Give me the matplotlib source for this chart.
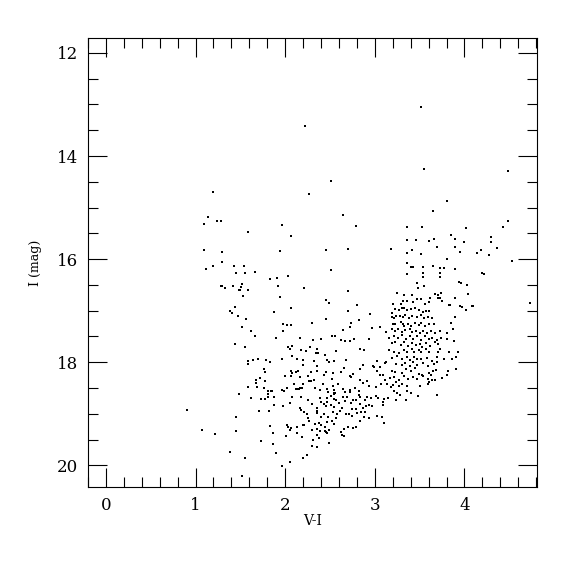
import matplotlib.pyplot as plt
import numpy as np

# colour-magnitude diagram, values

# sparse stars (blue side, bright field stars, upper giant branch)
field_vi = [3.51, 2.22, 3.55, 4.49, 2.51, 1.20, 2.27, 3.81, 3.65, 2.65, 1.14, 1.09, 1.24, 1.28,
            1.97, 2.79, 3.36, 3.53, 4.02, 4.49, 4.43, 1.59, 2.07, 3.85, 4.30, 4.30, 3.90, 3.99,
            3.36, 3.46, 3.61, 3.66, 3.69, 3.90, 1.09, 1.94, 2.46, 2.70, 3.18, 3.42, 3.95, 4.19,
            4.14, 4.27, 4.36, 1.30, 3.36, 3.52, 3.80, 4.53, 1.12, 1.19, 1.29, 1.43, 1.54, 1.45,
            1.55, 1.66, 2.51, 3.36, 3.40, 3.43, 3.36, 3.54, 3.65, 3.73, 3.77, 3.89, 3.73, 3.73,
            3.54, 3.54, 4.20, 4.22, 1.83, 1.91, 2.03, 1.28, 1.33, 1.30, 1.42, 1.52, 1.51, 1.50,
            1.48, 1.59, 1.92, 2.21, 3.47, 3.55, 3.48, 3.94, 3.96, 4.03, 1.53, 1.94, 2.70, 3.25,
            3.33, 3.41, 4.04, 3.62, 3.67, 3.71, 3.74, 3.73, 3.90, 3.47, 3.32, 2.45, 2.49, 2.80,
            3.20, 3.29, 3.83, 3.84, 3.95, 3.97, 4.08, 4.10, 4.73, 1.44, 2.07, 1.39, 1.41, 1.87,
            1.47, 1.56, 2.70, 2.45, 2.95, 2.82, 3.90, 4.02]
field_i = [13.04, 13.41, 14.25, 14.29, 14.48, 14.70, 14.74, 14.88, 15.07, 15.14, 15.18, 15.31, 15.26, 15.26,
           15.34, 15.35, 15.37, 15.38, 15.40, 15.26, 15.37, 15.47, 15.55, 15.53, 15.58, 15.66, 15.61, 15.67,
           15.63, 15.63, 15.65, 15.60, 15.76, 15.77, 15.82, 15.85, 15.82, 15.80, 15.81, 15.83, 15.87, 15.83,
           15.89, 15.92, 15.79, 15.86, 15.89, 15.90, 15.99, 16.03, 16.20, 16.14, 16.06, 16.14, 16.13, 16.26,
           16.26, 16.25, 16.21, 16.08, 16.15, 16.15, 16.28, 16.16, 16.14, 16.18, 16.18, 16.19, 16.27, 16.34,
           16.26, 16.35, 16.26, 16.28, 16.39, 16.37, 16.33, 16.52, 16.56, 16.53, 16.52, 16.48, 16.55, 16.59,
           16.59, 16.59, 16.52, 16.56, 16.47, 16.52, 16.56, 16.45, 16.46, 16.51, 16.72, 16.74, 16.62, 16.65,
           16.69, 16.69, 16.67, 16.75, 16.68, 16.70, 16.66, 16.75, 16.75, 16.77, 16.81, 16.79, 16.85, 16.88,
           16.87, 16.87, 16.89, 16.88, 16.91, 16.92, 16.90, 16.91, 16.86, 16.92, 16.94, 17.01, 17.05, 17.02,
           17.10, 17.17, 17.01, 17.16, 17.07, 17.19, 17.12, 16.98]

# main faint group (turn-off / subgiants)
faint_vi = [2.30, 1.98, 2.02, 2.07, 2.73, 2.72, 2.97, 3.06, 3.85, 3.87, 1.52, 1.62, 1.66, 1.98,
            2.65, 1.90, 2.16, 2.52, 2.56, 2.31, 2.40, 2.62, 2.67, 2.72, 2.77, 2.94, 1.44, 1.55,
            2.03, 2.05, 2.08, 2.18, 2.23, 2.28, 2.35, 2.34, 2.37, 2.44, 2.57, 2.84, 2.88, 2.13,
            2.08, 2.20, 2.32, 2.47, 2.49, 2.55, 2.68, 1.59, 1.59, 1.64, 1.70, 1.79, 1.83, 1.96,
            1.76, 1.77, 2.00, 2.07, 2.08, 2.07, 2.12, 2.14, 2.17, 2.20, 2.26, 2.29, 2.36, 2.36,
            2.43, 2.46, 2.53, 2.52, 2.62, 2.66, 2.72, 2.73, 2.76, 2.84, 2.87, 2.98, 2.99, 3.02,
            3.06, 3.12, 3.11, 3.06, 3.11, 1.67, 1.67, 1.72, 1.77, 1.59, 1.69, 1.76, 1.81, 1.84,
            1.85, 1.81, 1.97, 1.99, 2.02, 2.10, 2.12, 2.13, 2.15, 2.17, 2.19, 2.20, 2.27, 2.29,
            2.32, 2.33, 2.39, 2.42, 2.47, 2.48, 2.53, 2.54, 2.56, 2.59, 2.64, 2.67, 2.72, 2.72,
            2.78, 2.82, 2.84, 2.87, 2.91, 2.94, 3.01, 3.07, 1.62, 1.73, 1.77, 1.81, 1.87, 1.71,
            1.82, 1.48, 1.87, 1.98, 2.05, 2.08, 2.18, 2.16, 2.18, 2.21, 2.24, 2.25, 2.30, 2.36,
            2.36, 2.36, 2.39, 2.40, 2.43, 2.47, 2.47, 2.46, 2.51, 2.54, 2.55, 2.54, 2.57, 2.51,
            2.54, 2.53, 2.60, 2.63, 2.61, 2.65, 2.67, 2.69, 2.73, 2.76, 2.79, 2.82, 2.83, 2.84,
            2.87, 2.85, 2.89, 2.90, 2.91, 2.94, 2.96, 2.97, 3.01, 3.04, 3.09, 3.09, 3.10, 3.02,
            3.08, 3.10, 3.15, 2.94, 2.74, 2.79, 2.71, 2.68, 2.75, 2.80, 2.89, 2.83, 2.88, 2.70,
            2.76, 2.79, 2.66, 2.62, 2.63, 2.66, 2.52, 2.55, 2.57, 2.58, 2.48, 2.47, 2.43, 2.40,
            2.38, 2.40, 2.44, 2.36, 2.39, 2.44, 2.46, 2.47, 2.49, 2.49, 2.36, 2.38, 2.33, 2.30,
            2.31, 2.35, 2.30, 2.26, 2.27, 2.20, 2.21, 2.13, 2.13, 2.19, 2.02, 2.03, 2.05, 2.06,
            2.01, 1.83, 1.86, 1.73, 1.86, 1.90, 2.05, 1.96, 2.20, 2.24, 1.45, 1.45, 1.22, 1.07,
            0.91, 1.39, 1.55, 1.52, 3.03, 3.09, 3.14, 3.18]
faint_i = [17.23, 17.25, 17.28, 17.28, 17.24, 17.31, 17.34, 17.31, 17.23, 17.36, 17.32, 17.40, 17.49, 17.40,
           17.37, 17.52, 17.53, 17.50, 17.50, 17.57, 17.54, 17.56, 17.59, 17.59, 17.54, 17.55, 17.65, 17.71,
           17.71, 17.74, 17.68, 17.76, 17.78, 17.70, 17.74, 17.82, 17.82, 17.86, 17.78, 17.74, 17.77, 17.94,
           17.87, 17.95, 17.97, 17.95, 17.99, 17.97, 17.95, 17.97, 18.03, 17.95, 17.93, 17.95, 17.99, 17.94,
           18.13, 18.19, 18.26, 18.26, 18.20, 18.16, 18.18, 18.16, 18.28, 18.06, 18.26, 18.19, 18.17, 18.08,
           18.24, 18.19, 18.20, 18.33, 18.19, 18.12, 18.26, 18.28, 18.23, 18.14, 18.05, 18.08, 18.10, 17.97,
           18.10, 18.00, 18.02, 18.25, 18.34, 18.35, 18.40, 18.31, 18.36, 18.48, 18.48, 18.50, 18.56, 18.56,
           18.56, 18.61, 18.54, 18.56, 18.50, 18.43, 18.51, 18.52, 18.51, 18.49, 18.49, 18.42, 18.36, 18.36,
           18.35, 18.50, 18.53, 18.43, 18.52, 18.57, 18.47, 18.54, 18.60, 18.42, 18.51, 18.57, 18.53, 18.58,
           18.49, 18.56, 18.34, 18.40, 18.37, 18.47, 18.48, 18.43, 18.70, 18.71, 18.72, 18.68, 18.68, 18.94,
           18.94, 18.62, 18.82, 18.84, 18.79, 18.68, 18.68, 18.88, 18.92, 18.97, 19.01, 18.73, 18.81, 18.94,
           18.88, 18.99, 18.69, 18.77, 18.80, 18.70, 18.77, 18.85, 18.65, 18.62, 18.59, 18.71, 18.74, 18.83,
           18.87, 18.96, 18.79, 18.89, 18.94, 18.68, 18.75, 18.68, 18.79, 18.74, 18.74, 18.63, 18.68, 18.80,
           18.88, 18.97, 18.74, 18.85, 18.68, 18.83, 18.69, 18.84, 18.66, 18.70, 18.78, 18.82, 18.72, 19.05,
           19.07, 19.17, 18.70, 19.09, 18.91, 18.91, 19.00, 19.00, 19.05, 18.98, 18.96, 19.13, 19.06, 19.25,
           19.27, 19.25, 19.30, 19.35, 19.42, 19.44, 19.13, 19.19, 19.09, 19.01, 19.06, 19.15, 19.00, 19.07,
           19.18, 19.21, 19.25, 19.30, 19.34, 19.34, 19.35, 19.37, 19.32, 19.57, 19.41, 19.47, 19.19, 19.31,
           19.50, 19.65, 19.62, 19.09, 19.13, 19.21, 19.21, 19.25, 19.37, 19.45, 19.21, 19.26, 19.31, 19.28,
           19.44, 19.23, 19.37, 19.52, 19.59, 19.76, 19.94, 20.01, 19.85, 19.79, 19.06, 19.34, 19.39, 19.32,
           18.93, 19.74, 19.85, 20.21, 18.16, 18.24, 18.42, 18.48]

# red clump / lower giant branch
clump_vi = [3.19, 3.22, 3.27, 3.30, 3.33, 3.36, 3.40, 3.45, 3.49, 3.54, 3.57, 3.61,
            3.19, 3.21, 3.24, 3.28, 3.32, 3.34, 3.38, 3.42, 3.47, 3.51, 3.55, 3.59, 3.64,
            3.20, 3.23, 3.29, 3.31, 3.33, 3.37, 3.40, 3.45, 3.49, 3.52, 3.56, 3.60, 3.66,
            3.13, 3.19, 3.22, 3.26, 3.30, 3.34, 3.39, 3.42, 3.46, 3.50, 3.54, 3.58, 3.63, 3.67, 3.73, 3.81,
            3.16, 3.21, 3.26, 3.30, 3.35, 3.39, 3.43, 3.47, 3.51, 3.56, 3.60, 3.64, 3.69, 3.74, 3.80, 3.88,
            3.19, 3.23, 3.29, 3.33, 3.37, 3.41, 3.46, 3.50, 3.53, 3.57, 3.62, 3.67, 3.71,
            3.16, 3.21, 3.27, 3.33, 3.36, 3.41, 3.44, 3.49, 3.52, 3.57, 3.61, 3.70, 3.73, 3.83, 3.93,
            3.19, 3.25, 3.30, 3.36, 3.39, 3.44, 3.47, 3.52, 3.58, 3.64, 3.69, 3.77, 3.86, 3.91,
            3.24, 3.30, 3.34, 3.39, 3.43, 3.47, 3.54, 3.59, 3.66, 3.69,
            3.19, 3.23, 3.30, 3.35, 3.40, 3.45, 3.49, 3.53, 3.60, 3.65, 3.68, 3.75, 3.81, 3.91,
            3.17, 3.21, 3.27, 3.33, 3.37, 3.43, 3.47, 3.54, 3.59, 3.63, 3.64, 3.82,
            3.20, 3.24, 3.27, 3.30, 3.36, 3.50, 3.59, 3.61, 3.67,
            3.21, 3.25, 3.28, 3.36, 3.40, 3.48, 3.69, 3.24, 3.35,
            3.36, 3.43, 3.51, 3.56, 3.60, 3.70, 3.75]
clump_i = [17.04, 16.97, 16.99, 16.95, 16.95, 16.99, 16.96, 16.95, 16.99, 17.03, 17.01, 17.00,
           17.13, 17.15, 17.10, 17.10, 17.13, 17.08, 17.15, 17.10, 17.12, 17.08, 17.15, 17.12, 17.14,
           17.25, 17.26, 17.22, 17.26, 17.29, 17.25, 17.30, 17.23, 17.27, 17.23, 17.30, 17.26, 17.25,
           17.41, 17.35, 17.40, 17.36, 17.42, 17.37, 17.35, 17.41, 17.39, 17.43, 17.39, 17.43, 17.39, 17.43, 17.40, 17.44,
           17.52, 17.49, 17.53, 17.48, 17.55, 17.50, 17.54, 17.50, 17.57, 17.49, 17.55, 17.52, 17.57, 17.52, 17.54, 17.59,
           17.63, 17.61, 17.66, 17.61, 17.68, 17.63, 17.67, 17.65, 17.70, 17.62, 17.68, 17.61, 17.65,
           17.76, 17.80, 17.83, 17.77, 17.81, 17.75, 17.80, 17.76, 17.81, 17.74, 17.80, 17.81, 17.75, 17.80, 17.81,
           17.92, 17.88, 17.94, 17.90, 17.95, 17.89, 17.93, 17.94, 17.92, 17.97, 17.90, 17.94, 17.93, 17.89,
           18.03, 18.06, 18.01, 18.08, 17.99, 18.06, 18.02, 18.07, 18.03, 18.00,
           18.16, 18.19, 18.21, 18.14, 18.17, 18.12, 18.23, 18.24, 18.20, 18.16, 18.15, 18.30, 18.24, 18.14,
           18.30, 18.28, 18.34, 18.26, 18.32, 18.28, 18.33, 18.26, 18.32, 18.25, 18.34, 18.16,
           18.45, 18.39, 18.47, 18.42, 18.46, 18.47, 18.43, 18.39, 18.35,
           18.55, 18.60, 18.63, 18.56, 18.59, 18.65, 18.63, 18.73, 18.74,
           16.81, 16.84, 16.77, 16.87, 16.84, 16.75, 16.81]

vi = np.array(field_vi + faint_vi + clump_vi)
imag = np.array(field_i + faint_i + clump_i)

plt.rcParams['font.family'] = 'DejaVu Serif'

fig = plt.figure(figsize=(5.75, 5.75), dpi=100)
ax = fig.add_axes([0.153, 0.153, 0.781, 0.781])

ax.scatter(vi, imag, s=3, c='black', marker='s', linewidths=0)

ax.set_xlim(-0.19, 4.81)
ax.set_ylim(20.42, 11.71)

ax.set_xticks([0, 1, 2, 3, 4])
ax.set_xticks(np.arange(-0.2, 4.81, 0.2), minor=True)
ax.set_yticks([12, 14, 16, 18, 20])
ax.set_yticks(np.arange(12, 20.41, 0.5), minor=True)

ax.tick_params(which='both', direction='in', top=True, right=True, width=0.8)
ax.tick_params(which='major', length=14, labelsize=12)
ax.tick_params(axis='x', which='major', pad=7)
ax.tick_params(axis='y', which='major', pad=7)
ax.tick_params(which='minor', length=7)

ax.set_xlabel('V-I', fontsize=10, labelpad=0)
ax.set_ylabel('I (mag)', fontsize=9, labelpad=11)

for sp in ax.spines.values():
    sp.set_linewidth(0.8)

fig.savefig('out.png', dpi=100)
